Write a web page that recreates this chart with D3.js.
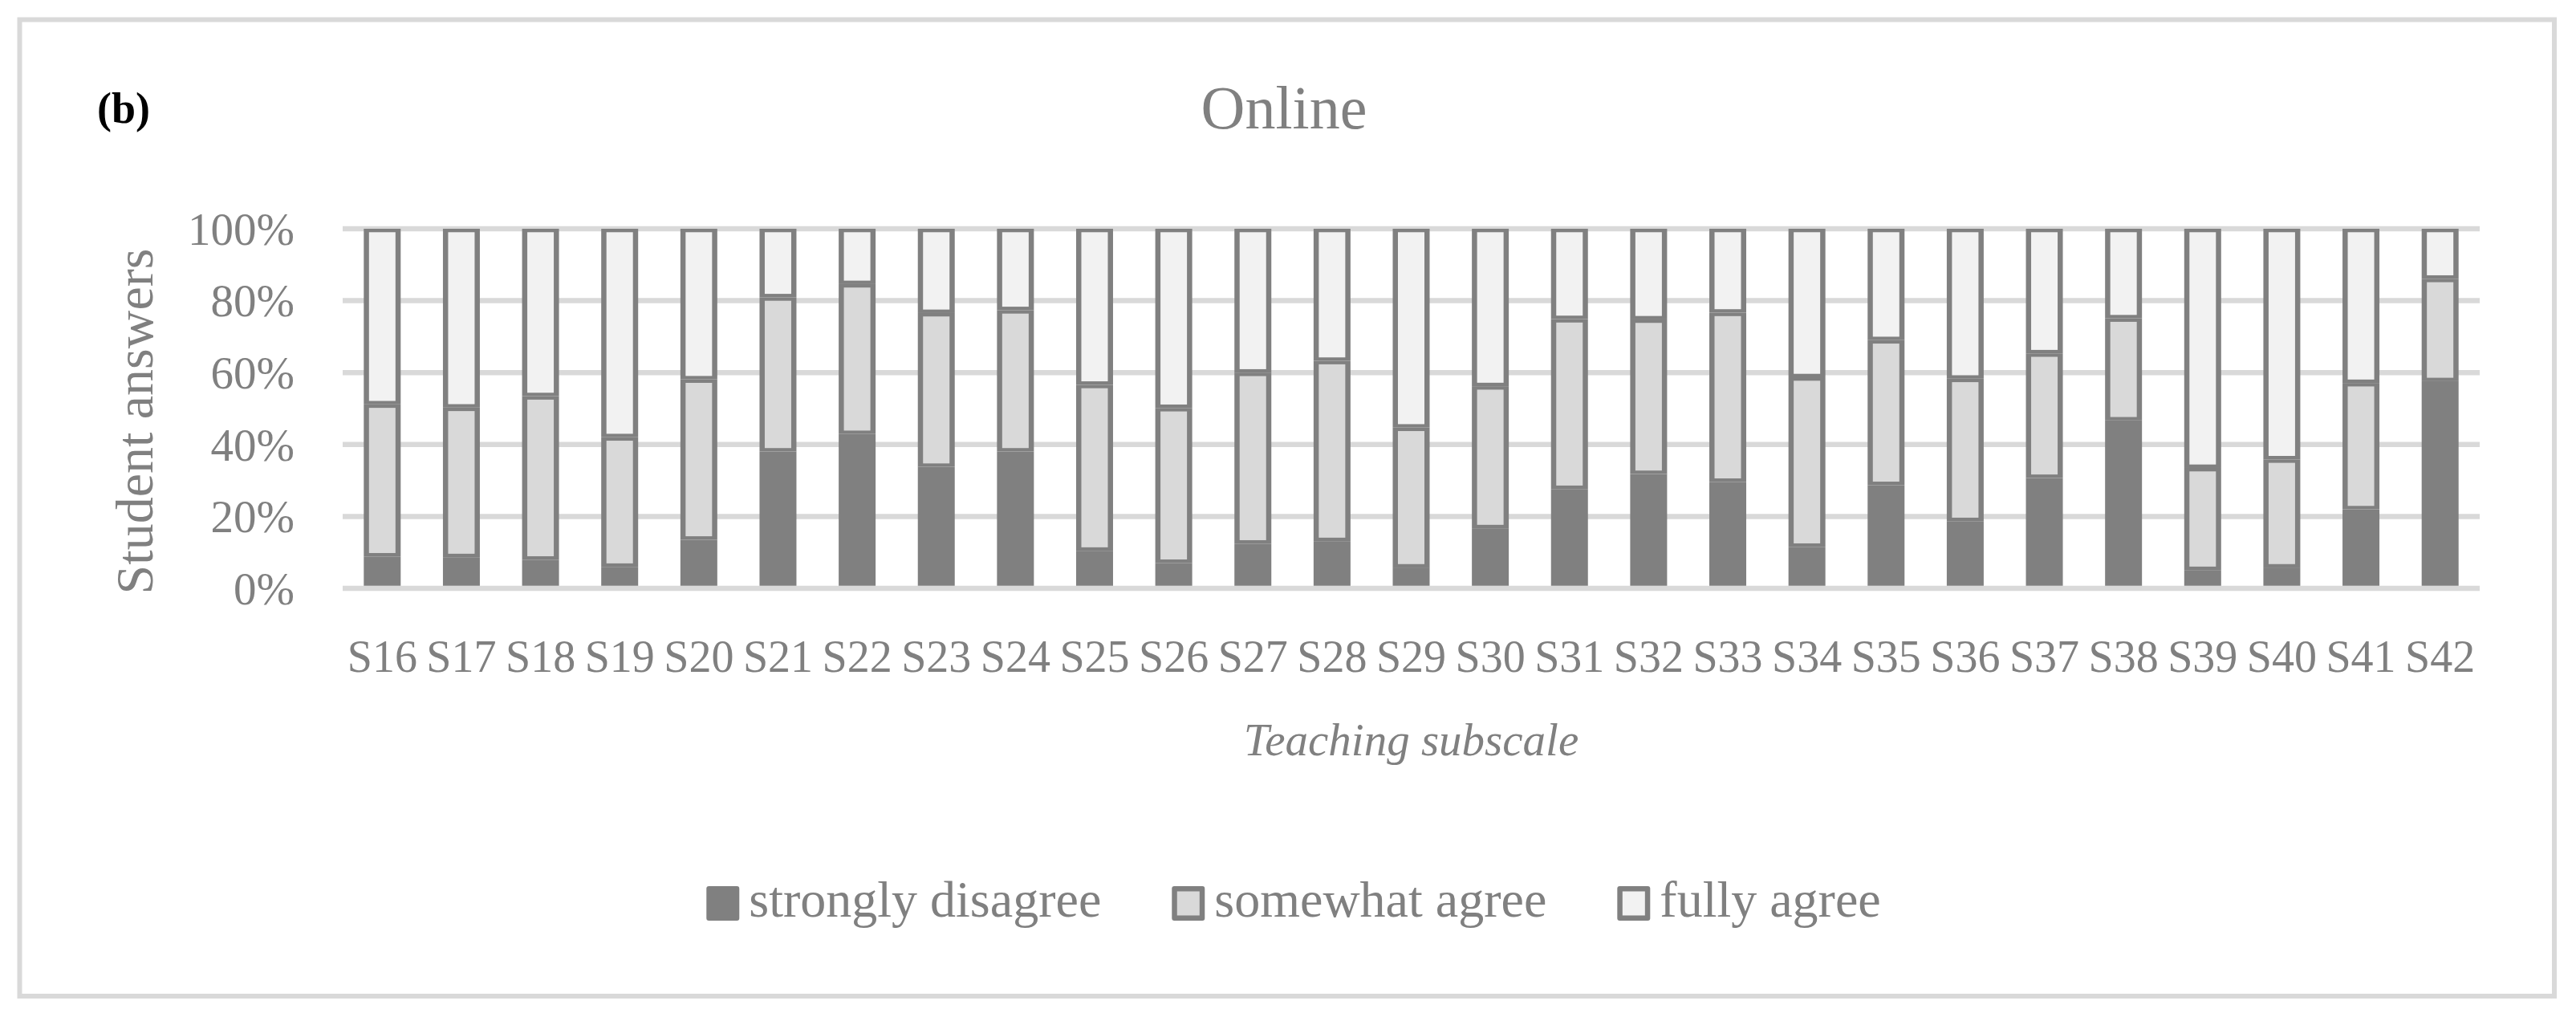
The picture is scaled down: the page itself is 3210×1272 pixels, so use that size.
<!DOCTYPE html>
<html>
<head>
<meta charset="utf-8">
<script src="https://cdn.jsdelivr.net/npm/d3@7"></script>
<style>
  body { margin:0; background:#fff; }
  text { font-family:'Palatino Linotype','Book Antiqua',Palatino,'Liberation Serif',serif; }
</style>
</head>
<body>
<div id="chart-area"></div>
<script>
// categories (x axis)
var items = ["S16","S17","S18","S19","S20","S21","S22","S23","S24","S25","S26","S27","S28","S29",
             "S30","S31","S32","S33","S34","S35","S36","S37","S38","S39","S40","S41","S42"];

// share of answers, in %
var stronglyDisagree = [8.2,8.0,7.3,5.3,12.9,37.6,42.5,33.3,37.6,9.8,6.4,11.8,12.5,5.1,
                        16.1,27.1,31.3,29.1,10.9,28.2,18.1,30.2,46.3,4.4,5.1,21.4,57.3];
var somewhatAgree    = [42.6,41.9,45.8,36.3,44.9,43.2,42.0,43.1,39.6,46.5,43.4,47.9,50.5,39.2,
                        39.8,47.6,43.3,47.4,47.5,40.6,39.9,34.9,28.6,28.6,30.3,35.4,28.7];
var fullyAgree       = [49.2,50.1,46.9,58.4,42.2,19.2,15.5,23.6,22.8,43.7,50.2,40.3,37.0,55.7,
                        44.1,25.3,25.4,23.5,41.6,31.2,42.0,34.9,25.1,67.0,64.6,43.2,14.0];

var seriesNames = ["strongly disagree","somewhat agree","fully agree"];
var seriesKeys = ["dis","some","full"];
var yTicks = [0,0.2,0.4,0.6,0.8,1];

var W = 3210, H = 1272;
var grey = "#808080", grid = "#D9D9D9";
var fills = { dis:"#808080", some:"#D9D9D9", full:"#F2F2F2" };

// plot area
var margin = { left:427, right:W-3090, top:285, bottom:H-733 };
var width = W - margin.left - margin.right;
var height = H - margin.top - margin.bottom;
var gridW = 6.5;

var svg = d3.select("#chart-area").append("svg")
    .attr("width", W)
    .attr("height", H);

// outer frame
svg.append("rect")
    .attr("x", 24.5).attr("y", 24.5)
    .attr("width", 3183-24.5).attr("height", 1241-24.5)
    .attr("fill", "#fff")
    .attr("stroke", grid)
    .attr("stroke-width", 6);

var g = svg.append("g")
    .attr("transform", "translate(" + margin.left + "," + margin.top + ")");

// table for the stack
var rows = items.map(function(d, i){
    return { item:d, dis:stronglyDisagree[i]/100, some:somewhatAgree[i]/100, full:fullyAgree[i]/100 };
});
var stacked = d3.stack().keys(seriesKeys)(rows);

// Scales
var x = d3.scaleBand()
    .domain(items)
    .range([0, width])
    .paddingInner(0.5336)
    .paddingOuter(0.2668);
var y = d3.scaleLinear()
    .domain([0,1])
    .range([height, 0]);
// bars stand on top of the 0% gridline
var yb = d3.scaleLinear()
    .domain([0,1])
    .range([height - gridW/2, 0]);

// Gridlines
g.append("g").attr("class","grid")
    .selectAll("line")
    .data(yTicks)
    .enter().append("line")
    .attr("x1", 0).attr("x2", width)
    .attr("y1", function(d){ return y(d); })
    .attr("y2", function(d){ return y(d); })
    .attr("stroke", grid)
    .attr("stroke-width", gridW);

// Bars: grey outer rect, lighter inner rect gives the thick outline
var sx = 6.5, sy = 4.3;
var layers = g.selectAll(".layer")
    .data(stacked)
    .enter().append("g")
    .attr("class", "layer");

layers.selectAll(".outer")
    .data(function(d){ return d; })
    .enter().append("rect")
    .attr("class","outer")
    .attr("x", function(d){ return x(d.data.item); })
    .attr("y", function(d){ return yb(d[1]); })
    .attr("width", x.bandwidth())
    .attr("height", function(d){ return yb(d[0]) - yb(d[1]); })
    .attr("fill", grey);

layers.filter(function(d){ return d.key !== "dis"; })
    .selectAll(".inner")
    .data(function(d){ return d.map(function(v){ v.key = d.key; return v; }); })
    .enter().append("rect")
    .attr("class","inner")
    .attr("x", function(d){ return x(d.data.item) + sx; })
    .attr("y", function(d){ return yb(d[1]) + sy; })
    .attr("width", x.bandwidth() - 2*sx)
    .attr("height", function(d){ return Math.max(0, yb(d[0]) - yb(d[1]) - 2*sy); })
    .attr("fill", function(d){ return fills[d.key]; });

// Axes
var xAxisCall = d3.axisBottom(x).tickSize(0).tickPadding(0);
var xAxis = g.append("g")
    .attr("class","x axis")
    .attr("transform","translate(0," + height + ")")
    .call(xAxisCall);
xAxis.select(".domain").remove();
xAxis.selectAll("text")
    .attr("y", 104)
    .attr("dy", null)
    .attr("font-family", null)
    .attr("font-size", 56)
    .attr("fill", grey);

var yAxisCall = d3.axisLeft(y).tickValues(yTicks).tickFormat(d3.format(".0%")).tickSize(0).tickPadding(0);
var yAxis = g.append("g")
    .attr("class","y axis")
    .attr("transform","translate(-60,0)")
    .call(yAxisCall);
yAxis.select(".domain").remove();
yAxis.selectAll("text")
    .attr("font-family", null)
    .attr("font-size", 57)
    .attr("dy", "0.34em")
    .attr("fill", grey);

// Labels
svg.append("text")
    .attr("x", 121).attr("y", 153)
    .attr("font-size", 54)
    .attr("font-weight", "bold")
    .attr("fill", "#000")
    .text("(b)");

svg.append("text")
    .attr("x", 1600).attr("y", 160)
    .attr("text-anchor", "middle")
    .attr("font-size", 76)
    .attr("fill", grey)
    .text("Online");

svg.append("text")
    .attr("transform", "translate(190,525) rotate(-90)")
    .attr("text-anchor", "middle")
    .attr("font-size", 66)
    .attr("fill", grey)
    .text("Student answers");

svg.append("text")
    .attr("x", margin.left + width/2).attr("y", 941)
    .attr("text-anchor", "middle")
    .attr("font-size", 57)
    .attr("font-style", "italic")
    .attr("fill", grey)
    .text("Teaching subscale");

// Legend
var legend = svg.append("g").attr("class","legend");
var items2 = legend.selectAll(".item")
    .data(seriesKeys)
    .enter().append("g")
    .attr("class","item");

items2.append("rect")
    .attr("x", 0).attr("y", 1104)
    .attr("width", 41).attr("height", 43)
    .attr("rx", 3)
    .attr("fill", grey);
items2.filter(function(d){ return d !== "dis"; })
    .append("rect")
    .attr("x", 6.5).attr("y", 1110.5)
    .attr("width", 28).attr("height", 30)
    .attr("fill", function(d){ return fills[d]; });
items2.append("text")
    .attr("x", 53).attr("y", 1142)
    .attr("font-size", 64)
    .attr("fill", grey)
    .text(function(d, i){ return seriesNames[i]; });

// lay the legend out from measured text widths, centred
var pos = 0, starts = [];
items2.each(function(){
    starts.push(pos);
    pos += 53 + d3.select(this).select("text").node().getComputedTextLength() + 88;
});
var total = pos - 88;
var left0 = 1612 - total/2;
items2.attr("transform", function(d, i){ return "translate(" + (left0 + starts[i]) + ",0)"; });
</script>
</body>
</html>
